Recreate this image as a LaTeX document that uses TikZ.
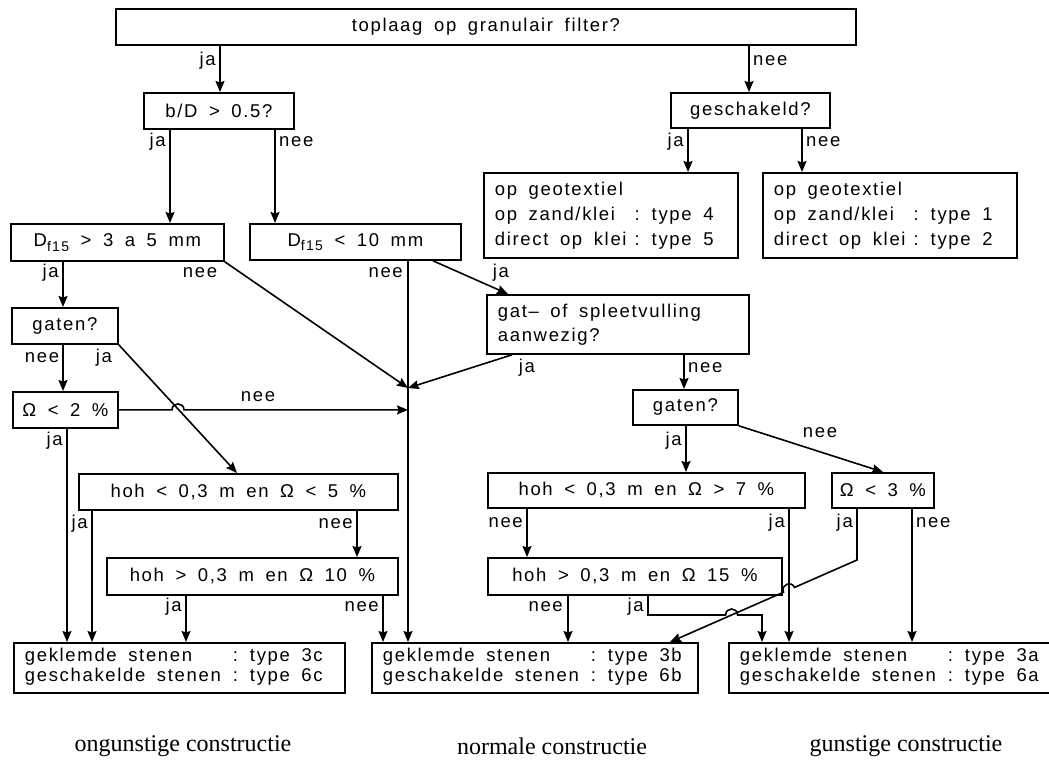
\documentclass[tikz,border=0pt]{standalone}
\usepackage{fontspec}
\setmainfont{Liberation Sans}[LetterSpace=9, WordSpace=1.7]
\newfontfamily\seriflab{Liberation Serif}
\usetikzlibrary{arrows.meta}
\newcommand\cbox[6]{\node[box, minimum width={#4-#2}, minimum height={#5-#3}] (#1) at (#2,#3) {#6};}
\newcommand\Dsub{D\raisebox{-4.5pt}{\fontsize{14}{14}\selectfont f15}}
\newcommand\fixsp{\spaceskip=0pt\xspaceskip=0pt\relax}
\begin{document}
\begin{tikzpicture}[x=1pt,y=-1pt,
  every node/.style={font=\fontsize{18.5}{21}\selectfont},
  box/.style={draw, line width=1.8pt, inner sep=0pt, anchor=north west, align=center},
  lbox/.style={draw, line width=1.8pt, inner xsep=11pt, inner ysep=0pt, anchor=north west, align=left},
  arr/.style={line width=1.6pt, -{Stealth[length=11pt,width=9pt,inset=1.5pt]}},
  lab/.style={inner sep=0pt}]
\useasboundingbox (0,0) rectangle (1049,769);
% boxes
\cbox{top}{115}{8}{855}{44}{toplaag op granulair filter?}
\cbox{bD}{143}{92}{293}{128}{b/D > 0.5?}
\cbox{gesch}{670}{92}{829}{127}{geschakeld?}
\node[lbox, text width=232pt, minimum height=85pt, font=\fontsize{18.5}{25}\selectfont] (geoL) at (483,172)
  {\fixsp\begin{tabular}{@{}l@{\hspace{8pt}}l@{}}\multicolumn{2}{@{}l@{}}{op geotextiel}\\ op zand/klei & :\hspace{12pt}type 4\\ direct op klei & :\hspace{12pt}type 5\end{tabular}};
\node[lbox, text width=232pt, minimum height=85pt, font=\fontsize{18.5}{25}\selectfont] (geoR) at (762,172)
  {\fixsp\begin{tabular}{@{}l@{\hspace{8pt}}l@{}}\multicolumn{2}{@{}l@{}}{op geotextiel}\\ op zand/klei & :\hspace{12pt}type 1\\ direct op klei & :\hspace{12pt}type 2\end{tabular}};
\cbox{D3}{10}{223}{223}{260}{\Dsub\ > 3 a 5 mm}
\cbox{D10}{249}{223}{460}{259}{\Dsub\ < 10 mm}
\node[lbox, text width=240pt, minimum height=59pt, font=\fontsize{18.5}{24}\selectfont] (gat) at (486,294)
  {\fixsp gat-- of spleetvulling\\ aanwezig?};
\cbox{gatenL}{11}{307}{117}{343}{gaten?}
\cbox{om2}{12}{391}{117}{427}{Ω < 2 \%}
\cbox{gatenR}{632}{389}{737}{424}{gaten?}
\cbox{hohL1}{78}{473}{397}{509}{hoh < 0,3 m en Ω < 5 \%}
\cbox{hohL2}{106}{557}{397}{594}{hoh > 0,3 m en Ω 10 \%}
\cbox{hohR1}{487}{472}{804}{507}{hoh < 0,3 m en Ω > 7 \%}
\cbox{om3}{831}{472}{933}{507}{Ω < 3 \%}
\cbox{hohR2}{487}{557}{781}{594}{hoh > 0,3 m en Ω 15 \%}
\node[lbox, text width=309pt, minimum height=50pt, font=\fontsize{18.5}{20}\selectfont] (botL) at (13,642)
  {\fixsp\begin{tabular}{@{}l@{\hspace{12pt}}l@{}}geklemde stenen & :\hspace{12pt}type 3c\\ geschakelde stenen & :\hspace{12pt}type 6c\end{tabular}};
\node[lbox, text width=304pt, minimum height=50pt, font=\fontsize{18.5}{20}\selectfont] (botM) at (371,642)
  {\fixsp\begin{tabular}{@{}l@{\hspace{12pt}}l@{}}geklemde stenen & :\hspace{12pt}type 3b\\ geschakelde stenen & :\hspace{12pt}type 6b\end{tabular}};
\node[lbox, text width=320pt, minimum height=50pt, font=\fontsize{18.5}{20}\selectfont] (botR) at (728,642)
  {\fixsp\begin{tabular}{@{}l@{\hspace{12pt}}l@{}}geklemde stenen & :\hspace{12pt}type 3a\\ geschakelde stenen & :\hspace{12pt}type 6a\end{tabular}};
% connectors
\coordinate (M) at (408,388);
\draw[arr] (220,0 |- top.south) -- (220,0 |- bD.north);
\draw[arr] (749,0 |- top.south) -- (749,0 |- gesch.north);
\draw[arr] (170,0 |- bD.south) -- (170,0 |- D3.north);
\draw[arr] (275,0 |- bD.south) -- (275,0 |- D10.north);
\draw[arr] (688,0 |- gesch.south) -- (688,0 |- geoL.north);
\draw[arr] (802,0 |- gesch.south) -- (802,0 |- geoR.north);
\draw[arr] (63,0 |- D3.south) -- (63,0 |- gatenL.north);
\draw[arr] (D3.south east) -- (M);
\draw[arr] (408,0 |- D10.south) -- (408,0 |- botM.north);
\draw[arr] (433,0 |- D10.south) -- (508,0 |- gat.north);
\draw[arr] (512,0 |- gat.south) -- (M);
\draw[arr] (684,0 |- gat.south) -- (684,0 |- gatenR.north);
\draw[arr] (63,0 |- gatenL.south) -- (63,0 |- om2.north);
\draw[arr] (gatenL.south east) -- (237,0 |- hohL1.north);
\draw[arr] (om2.east) -- (172,0 |- om2.east) .. controls +(0,-8) and +(0,-8) .. (184,0 |- om2.east) -- (408,0 |- om2.east);
\draw[arr] (67,0 |- om2.south) -- (67,0 |- botL.north);
\draw[arr] (92,0 |- hohL1.south) -- (92,0 |- botL.north);
\draw[arr] (357,0 |- hohL1.south) -- (357,0 |- hohL2.north);
\draw[arr] (186,0 |- hohL2.south) -- (186,0 |- botL.north);
\draw[arr] (383,0 |- hohL2.south) -- (383,0 |- botM.north);
\draw[arr] (686,0 |- gatenR.south) -- (686,0 |- hohR1.north);
\draw[arr] (gatenR.south east) -- (883,0 |- om3.north);
\draw[arr] (527,0 |- hohR1.south) -- (527,0 |- hohR2.north);
\draw[arr] (789,0 |- hohR1.south) -- (789,0 |- botR.north);
\draw[arr] (912,0 |- om3.south) -- (912,0 |- botR.north);
\draw[arr] (568,0 |- hohR2.south) -- (568,0 |- botM.north);
\draw[arr] (857,0 |- om3.south) -- (857,560) -- (794.5,587.4) .. controls (791.3,580.1) and (780.3,584.9) .. (783.5,592.2) -- (670,0 |- botM.north);
\draw[arr] (648,0 |- hohR2.south) -- (648,615) -- (725.6,615) .. controls +(0,-8) and +(0,-8) .. (737.6,615) -- (762,615) -- (762,0 |- botR.north);
% labels
\node[lab, anchor=east] (lTopJa) at (216,61) {ja};
\node[lab, anchor=west] (lTopNee) at (753,61) {nee};
\node[lab, anchor=east] (lBdJa) at (166,142) {ja};
\node[lab, anchor=west] (lBdNee) at (279,142) {nee};
\node[lab, anchor=east] (lGeJa) at (684,142) {ja};
\node[lab, anchor=west] (lGeNee) at (806,142) {nee};
\node[lab, anchor=east] (lD3Ja) at (59,273) {ja};
\node[lab] (lD3Nee) at (200,273) {nee};
\node[lab, anchor=east] (lD10Nee) at (403,273) {nee};
\node[lab] (lD10Ja) at (501,273) {ja};
\node[lab] (lGLNee) at (42,358) {nee};
\node[lab] (lGLJa) at (104,358) {ja};
\node[lab] (lO2Nee) at (258,397) {nee};
\node[lab, anchor=east] (lO2Ja) at (63,441) {ja};
\node[lab, anchor=east] (lH1LJa) at (88,524) {ja};
\node[lab, anchor=east] (lH1LNee) at (353,524) {nee};
\node[lab, anchor=east] (lH2LJa) at (182,607) {ja};
\node[lab, anchor=east] (lH2LNee) at (379,607) {nee};
\node[lab] (lGatJa) at (527,368) {ja};
\node[lab, anchor=west] (lGatNee) at (688,368) {nee};
\node[lab, anchor=east] (lGRJa) at (682,441) {ja};
\node[lab] (lGRNee) at (820,433) {nee};
\node[lab, anchor=east] (lH1RNee) at (523,523) {nee};
\node[lab, anchor=east] (lH1RJa) at (785,523) {ja};
\node[lab, anchor=east] (lO3Ja) at (853,523) {ja};
\node[lab, anchor=west] (lO3Nee) at (916,523) {nee};
\node[lab, anchor=east] (lH2RNee) at (563,607) {nee};
\node[lab, anchor=east] (lH2RJa) at (644,607) {ja};
% bottom captions
\node[font=\seriflab\fontsize{24}{28}\selectfont] (c1) at (183,746) {ongunstige constructie};
\node[font=\seriflab\fontsize{24}{28}\selectfont] (c2) at (552,746) {normale constructie};
\node[font=\seriflab\fontsize{24}{28}\selectfont] (c3) at (906,746) {gunstige constructie};
\end{tikzpicture}
\end{document}
